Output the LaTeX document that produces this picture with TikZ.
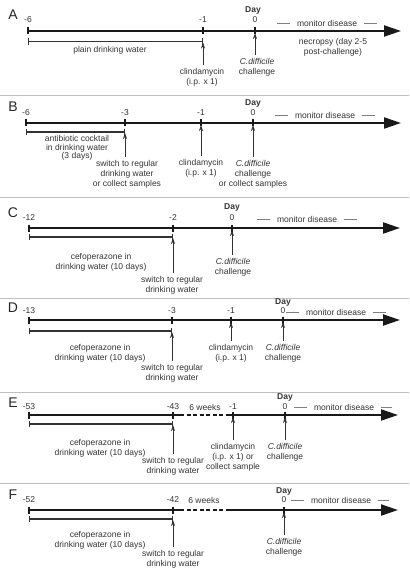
\documentclass[tikz,border=0pt]{standalone}
\usepackage{fontspec}
\setmainfont{Liberation Sans}
\usetikzlibrary{arrows.meta}

\begin{document}
\begin{tikzpicture}[x=1pt,y=-1pt,
  every node/.style={font=\fontsize{8.5}{10}\selectfont, text=black!80, align=center},
  panel/.style={font=\fontsize{14}{14}\selectfont, text=black!85},
  daylabel/.style={font=\fontsize{8.5}{10}\selectfont\bfseries},
  tightlines/.style={font=\fontsize{8.5}{8.5}\selectfont},
  axis/.style={line width=2pt, black!90, -{Triangle[length=17pt,width=11pt]}},
  axisseg/.style={line width=2pt, black!90},
  axisdash/.style={line width=2pt, black!90, dash pattern=on 4pt off 2.5pt},
  tickmark/.style={line width=1.1pt, black!90},
  bracket/.style={line width=1.2pt, black!80, {Bar[width=6.5pt]}-{Bar[width=6.5pt]}},
  uparrow/.style={line width=0.8pt, black!80, -{Stealth[length=6pt,width=4pt]}},
  mondash/.style={line width=0.5pt, black!50},
  separator/.style={line width=0.8pt, black!25}
]
\useasboundingbox (0,0) rectangle (409,577);

% ---------------- Panel A ----------------
\node[panel] (pA) at (13,15) {A};
% Axis
\coordinate (a6) at (28,31);
\coordinate (a1) at (203,31);
\coordinate (a0) at (255,31);
\coordinate (aend) at (401,31);
\draw[axis] (a6) -- (aend);
\draw[tickmark] ([yshift=3.5pt]a6) -- ([yshift=-3.5pt]a6);
\draw[tickmark] ([yshift=3.5pt]a1) -- ([yshift=-3.5pt]a1);
\draw[tickmark] ([yshift=3.5pt]a0) -- ([yshift=-3.5pt]a0);
% Tick labels
\node (la6) at (28,20) {-6};
\node (la1) at (203,20) {-1};
\node (la0) at (255,20) {0};
\node[daylabel] (dayA) at (253,10) {Day};
% Monitor disease
\node (ma) at (327,23) {monitor disease};
\draw[mondash] ([xshift=-3pt]ma.west) -- ([xshift=-16pt]ma.west);
\draw[mondash] ([xshift=3pt]ma.east) -- ([xshift=16pt]ma.east);
\node (nca) at (333,47) {necropsy (day 2-5\\post-challenge)};
% Treatment
\coordinate (ba6) at (28,41.5);
\coordinate (ba1) at (203,41.5);
\draw[bracket] (ba6) -- (ba1);
\node (wa) at (110,50) {plain drinking water};
\node (cla) at (202,77) {clindamycin\\(i.p. x 1)};
\node (cda) at (257,67) {\textit{C.difficile}\\challenge};
\draw[uparrow] (cla.north -| ba1) -- ([yshift=-1pt]ba1);
\draw[uparrow] (cda.north -| a0) -- ([yshift=-2pt]a0);
% Separator
\coordinate (s1l) at (0,95);
\coordinate (s1r) at (409,95);
\draw[separator] (s1l) -- (s1r);

% ---------------- Panel B ----------------
\node[panel] (pB) at (13,107) {B};
% Axis
\coordinate (b6) at (26,123);
\coordinate (b3) at (125,123);
\coordinate (b1) at (201,123);
\coordinate (b0) at (253,123);
\coordinate (bend) at (401,123);
\draw[axis] (b6) -- (bend);
\draw[tickmark] ([yshift=3.5pt]b6) -- ([yshift=-3.5pt]b6);
\draw[tickmark] ([yshift=3.5pt]b3) -- ([yshift=-3.5pt]b3);
\draw[tickmark] ([yshift=3.5pt]b1) -- ([yshift=-3.5pt]b1);
\draw[tickmark] ([yshift=3.5pt]b0) -- ([yshift=-3.5pt]b0);
% Tick labels
\node (lb6) at (26,113) {-6};
\node (lb3) at (125,113) {-3};
\node (lb1) at (201,113) {-1};
\node (lb0) at (253,113) {0};
\node[daylabel] (dayB) at (253,103) {Day};
% Monitor disease
\node (mb) at (325,115) {monitor disease};
\draw[mondash] ([xshift=-3pt]mb.west) -- ([xshift=-16pt]mb.west);
\draw[mondash] ([xshift=3pt]mb.east) -- ([xshift=16pt]mb.east);
% Treatment
\coordinate (bb6) at (26,132);
\coordinate (bb3) at (125,132);
\draw[bracket] (bb6) -- (bb3);
\node[tightlines] (wb) at (77,148) {antibiotic cocktail\\in drinking water\\(3 days)};
\node (swb) at (127,174) {switch to regular\\drinking water\\or collect samples};
\node (clb) at (201,168) {clindamycin\\(i.p. x 1)};
\node (cdb) at (253,174) {\textit{C.difficile}\\challenge\\or collect samples};
\draw[uparrow] (swb.north -| bb3) -- ([yshift=-1pt]bb3);
\draw[uparrow] (clb.north -| b1) -- ([yshift=-2pt]b1);
\draw[uparrow] (cdb.north -| b0) -- ([yshift=-2pt]b0);
% Separator
\coordinate (s2l) at (0,197);
\coordinate (s2r) at (409,197);
\draw[separator] (s2l) -- (s2r);

% ---------------- Panel C ----------------
\node[panel] (pC) at (13,213) {C};
% Axis
\coordinate (c12) at (29,228);
\coordinate (c2) at (173,228);
\coordinate (c0) at (232,228);
\coordinate (cend) at (400,228);
\draw[axis] (c12) -- (cend);
\draw[tickmark] ([yshift=3.5pt]c12) -- ([yshift=-3.5pt]c12);
\draw[tickmark] ([yshift=3.5pt]c2) -- ([yshift=-3.5pt]c2);
\draw[tickmark] ([yshift=3.5pt]c0) -- ([yshift=-3.5pt]c0);
% Tick labels
\node (lc12) at (29,218) {-12};
\node (lc2) at (173,218) {-2};
\node (lc0) at (232,218) {0};
\node[daylabel] (dayC) at (232,207) {Day};
% Monitor disease
\node (mc) at (307,219) {monitor disease};
\draw[mondash] ([xshift=-3pt]mc.west) -- ([xshift=-16pt]mc.west);
\draw[mondash] ([xshift=3pt]mc.east) -- ([xshift=16pt]mc.east);
% Treatment
\coordinate (bc12) at (29,237);
\coordinate (bc2) at (173,237);
\draw[bracket] (bc12) -- (bc2);
\node (wc) at (101,262) {cefoperazone in\\drinking water (10 days)};
\node (swc) at (172,285) {switch to regular\\drinking water};
\node (cdc) at (233,267) {\textit{C.difficile}\\challenge};
\draw[uparrow] (swc.north -| bc2) -- ([yshift=-1pt]bc2);
\draw[uparrow] (cdc.north -| c0) -- ([yshift=-2pt]c0);
% Separator
\coordinate (s3l) at (0,298);
\coordinate (s3r) at (409,298);
\draw[separator] (s3l) -- (s3r);

% ---------------- Panel D ----------------
\node[panel] (pD) at (13,308) {D};
% Axis
\coordinate (d13) at (29,320);
\coordinate (d3) at (172,320);
\coordinate (d1) at (231,320);
\coordinate (d0) at (283,320);
\coordinate (dend) at (400,320);
\draw[axis] (d13) -- (dend);
\draw[tickmark] ([yshift=3.5pt]d13) -- ([yshift=-3.5pt]d13);
\draw[tickmark] ([yshift=3.5pt]d3) -- ([yshift=-3.5pt]d3);
\draw[tickmark] ([yshift=3.5pt]d1) -- ([yshift=-3.5pt]d1);
\draw[tickmark] ([yshift=3.5pt]d0) -- ([yshift=-3.5pt]d0);
% Tick labels
\node (ld13) at (29,311) {-13};
\node (ld3) at (172,311) {-3};
\node (ld1) at (231,311) {-1};
\node (ld0) at (283,311) {0};
\node[daylabel] (dayD) at (283,302) {Day};
% Monitor disease
\node (md) at (336,312) {monitor disease};
\draw[mondash] ([xshift=-3pt]md.west) -- ([xshift=-16pt]md.west);
\draw[mondash] ([xshift=3pt]md.east) -- ([xshift=16pt]md.east);
% Treatment
\coordinate (bd13) at (29,331);
\coordinate (bd3) at (172,331);
\draw[bracket] (bd13) -- (bd3);
\node (wd) at (100,353) {cefoperazone in\\drinking water (10 days)};
\node (swd) at (172,373) {switch to regular\\drinking water};
\node (cld) at (231,353) {clindamycin\\(i.p. x 1)};
\node (cdd) at (283,353) {\textit{C.difficile}\\challenge};
\draw[uparrow] (swd.north -| bd3) -- ([yshift=-1pt]bd3);
\draw[uparrow] (cld.north -| d1) -- ([yshift=-2pt]d1);
\draw[uparrow] (cdd.north -| d0) -- ([yshift=-2pt]d0);
% Separator
\coordinate (s4l) at (0,392);
\coordinate (s4r) at (409,392);
\draw[separator] (s4l) -- (s4r);

% ---------------- Panel E ----------------
\node[panel] (pE) at (13,403) {E};
% Axis
\coordinate (e53) at (29,415);
\coordinate (e43) at (173,415);
\coordinate (eda) at (180,415);
\coordinate (edb) at (230,415);
\coordinate (e1) at (233,415);
\coordinate (e0) at (285,415);
\coordinate (eend) at (398,415);
\draw[axisseg] (e53) -- (eda);
\draw[axisdash] (eda) -- (edb);
\draw[axis] (edb) -- (eend);
\draw[tickmark] ([yshift=3.5pt]e53) -- ([yshift=-3.5pt]e53);
\draw[tickmark] ([yshift=3.5pt]e43) -- ([yshift=-3.5pt]e43);
\draw[tickmark] ([yshift=3.5pt]e1) -- ([yshift=-3.5pt]e1);
\draw[tickmark] ([yshift=3.5pt]e0) -- ([yshift=-3.5pt]e0);
% Tick labels
\node (le53) at (29,407) {-53};
\node (le43) at (173,407) {-43};
\node (le1) at (233,407) {-1};
\node (le0) at (285,407) {0};
\node[daylabel] (dayE) at (285,397) {Day};
\node (wke) at (205,407) {6 weeks};
% Monitor disease
\node (me) at (344,407) {monitor disease};
\draw[mondash] ([xshift=-3pt]me.west) -- ([xshift=-16pt]me.west);
\draw[mondash] ([xshift=3pt]me.east) -- ([xshift=14pt]me.east);
% Treatment
\coordinate (be53) at (29,424);
\coordinate (be43) at (173,424);
\draw[bracket] (be53) -- (be43);
\node (we) at (100,448) {cefoperazone in\\drinking water (10 days)};
\node (swe) at (173,466) {switch to regular\\drinking water};
\node (cle) at (233,457) {clindamycin\\(i.p. x 1) or\\collect sample};
\node (cde) at (285,452) {\textit{C.difficile}\\challenge};
\draw[uparrow] (swe.north -| be43) -- ([yshift=-1pt]be43);
\draw[uparrow] (cle.north -| e1) -- ([yshift=-2pt]e1);
\draw[uparrow] (cde.north -| e0) -- ([yshift=-2pt]e0);
% Separator
\coordinate (s5l) at (0,483);
\coordinate (s5r) at (409,483);
\draw[separator] (s5l) -- (s5r);

% ---------------- Panel F ----------------
\node[panel] (pF) at (13,495) {F};
% Axis
\coordinate (f52) at (29,510);
\coordinate (f42) at (173,510);
\coordinate (fda) at (180,510);
\coordinate (fdb) at (230,510);
\coordinate (f0) at (284,510);
\coordinate (fend) at (398,510);
\draw[axisseg] (f52) -- (fda);
\draw[axisdash] (fda) -- (fdb);
\draw[axis] (fdb) -- (fend);
\draw[tickmark] ([yshift=3.5pt]f52) -- ([yshift=-3.5pt]f52);
\draw[tickmark] ([yshift=3.5pt]f42) -- ([yshift=-3.5pt]f42);
\draw[tickmark] ([yshift=3.5pt]f0) -- ([yshift=-3.5pt]f0);
% Tick labels
\node (lf52) at (29,500) {-52};
\node (lf42) at (173,500) {-42};
\node (lf0) at (284,500) {0};
\node[daylabel] (dayF) at (284,491) {Day};
\node (wkf) at (204,500) {6 weeks};
% Monitor disease
\node (mf) at (341,500) {monitor disease};
\draw[mondash] ([xshift=-3pt]mf.west) -- ([xshift=-16pt]mf.west);
\draw[mondash] ([xshift=3pt]mf.east) -- ([xshift=14pt]mf.east);
% Treatment
\coordinate (bf52) at (29,519);
\coordinate (bf42) at (173,519);
\draw[bracket] (bf52) -- (bf42);
\node (wf) at (100,540) {cefoperazone in\\drinking water (10 days)};
\node (swf) at (173,559) {switch to regular\\drinking water};
\node (cdf) at (284,547) {\textit{C.difficile}\\challenge};
\draw[uparrow] (swf.north -| bf42) -- ([yshift=-1pt]bf42);
\draw[uparrow] (cdf.north -| f0) -- ([yshift=-2pt]f0);
\end{tikzpicture}
\end{document}
